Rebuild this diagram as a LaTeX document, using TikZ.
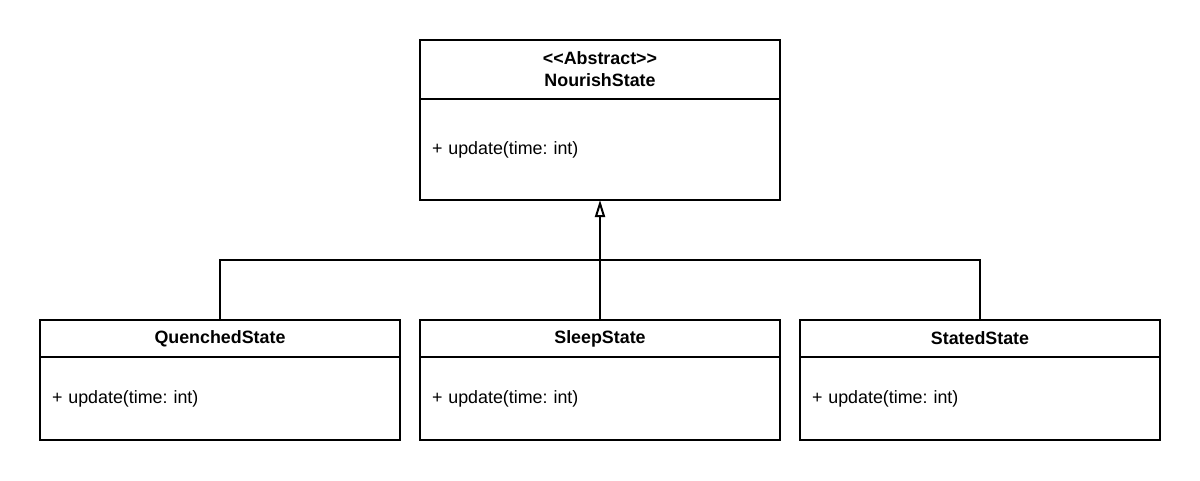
\documentclass[tikz,border=0pt]{standalone}
\usepackage{fontspec}
\setmainfont{Liberation Sans}
\frenchspacing
\usetikzlibrary{arrows.meta,calc}
\usetikzlibrary{positioning}
\tikzset{node distance=0.5cm,
classhead/.style={rectangle, draw, line width=0.05cm, outer sep=0pt, minimum width=9cm, inner sep=0pt,
  align=center, font=\fontsize{12.7}{15.6}\selectfont\bfseries},
classbody/.style={rectangle, draw, line width=0.05cm, outer sep=0pt, minimum width=9cm, inner xsep=0.3cm, inner ysep=0pt,
  text width=8.4cm, align=left, font=\fontsize{12.7}{15.6}\selectfont},
inherit/.style={-{Triangle[open, length=0.425cm, width=0.25cm]}}}

\begin{document}
\begin{tikzpicture}[line width=0.05cm]
    \useasboundingbox (0,0) rectangle (30,12);

    % Abstract class
    \node[classhead, minimum height=1.475cm, anchor=north] (nourishhead) at (15,11)
        {\mbox{<}\mbox{<}Abstract\mbox{>}\mbox{>}\\NourishState};
    \node[classbody, minimum height=2.525cm, below=0pt of nourishhead] (nourishbody) {+ update(time: int)};

    % Subclasses
    \node[classhead, minimum height=0.925cm, below=3cm of nourishbody] (sleephead) {SleepState};
    \node[classbody, minimum height=2.075cm, below=0pt of sleephead] (sleepbody) {+ update(time: int)};
    \node[classhead, minimum height=0.925cm, left=of sleephead] (quenchedhead) {QuenchedState};
    \node[classbody, minimum height=2.075cm, below=0pt of quenchedhead] (quenchedbody) {+ update(time: int)};
    \node[classhead, minimum height=0.925cm, right=of sleephead] (statedhead) {StatedState};
    \node[classbody, minimum height=2.075cm, below=0pt of statedhead] (statedbody) {+ update(time: int)};

    % Edges
    \coordinate (bus) at ($(nourishbody.south)!0.5!(sleephead.north)$);
    \draw[inherit] (sleephead.north) -- (nourishbody.south);
    \draw (quenchedhead.north) |- (bus) -| (statedhead.north);
\end{tikzpicture}
\end{document}
